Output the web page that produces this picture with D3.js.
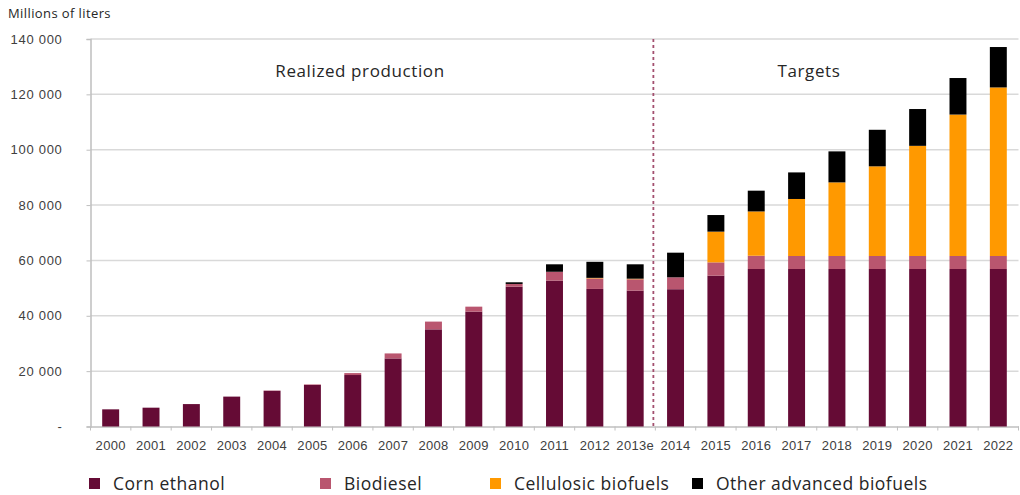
<!DOCTYPE html>
<html>
<head>
<meta charset="utf-8">
<script src="https://cdn.jsdelivr.net/npm/d3@7"></script>
<style>
  body { margin: 0; background: #fff; }
  svg { display: block; font-family: "Open Sans", Lato, sans-serif; }
</style>
</head>
<body>
<script>
// Millions of liters
const years = ["2000","2001","2002","2003","2004","2005","2006","2007","2008","2009","2010",
  "2011","2012","2013e","2014","2015","2016","2017","2018","2019","2020","2021","2022"];
const cornEthanol = [6200, 6800, 8100, 10800, 12900, 15000, 18600, 24600, 35100, 41500, 50500,
  52700, 49700, 49100, 49600, 54500, 56900, 56900, 56900, 56900, 56900, 56900, 56900];
const biodiesel = [0, 0, 0, 0, 100, 200, 700, 1800, 2800, 1800, 1000,
  3200, 3800, 4100, 4300, 4800, 4800, 4700, 4700, 4700, 4700, 4700, 4700];
const cellulosic = [0, 0, 0, 0, 0, 0, 0, 0, 0, 0, 0,
  0, 200, 200, 0, 11100, 16000, 20600, 26600, 32400, 39800, 51100, 60900];
const otherAdvanced = [0, 0, 0, 0, 0, 0, 0, 0, 0, 0, 600,
  2700, 5800, 5200, 8900, 6000, 7500, 9600, 11200, 13200, 13300, 13200, 14600];
const yTicks = [0, 20000, 40000, 60000, 80000, 100000, 120000, 140000];

const seriesKeys = ["Corn ethanol", "Biodiesel", "Cellulosic biofuels", "Other advanced biofuels"];
const seriesData = [cornEthanol, biodiesel, cellulosic, otherAdvanced];
const colors = ["#650b35", "#b9566f", "#ff9900", "#000000"];

const width = 1020, height = 495;
const margin = {top: 39, right: 1.5, bottom: 68.5, left: 90.5};

const table = years.map((year, i) => {
  const row = {year};
  seriesKeys.forEach((k, j) => row[k] = seriesData[j][i]);
  return row;
});

const stacked = d3.stack().keys(seriesKeys)(table);

const x = d3.scaleBand()
    .domain(years)
    .range([margin.left, width - margin.right])
    .paddingInner(0.58)
    .paddingOuter(0.29);

const y = d3.scaleLinear()
    .domain([0, 140000])
    .range([height - margin.bottom, margin.top]);

const fmt = d3.formatLocale({decimal: ",", thousands: " ", grouping: [3], currency: ["", ""]}).format(",d");

const svg = d3.select("body").append("svg")
    .attr("width", width)
    .attr("height", height);

// gridlines
svg.append("g")
  .selectAll("line")
  .data(yTicks.filter(d => d > 0))
  .join("line")
    .attr("x1", margin.left)
    .attr("x2", width - margin.right)
    .attr("y1", d => y(d))
    .attr("y2", d => y(d))
    .attr("stroke", "#d9d9d9")
    .attr("stroke-width", 1.5);

// y axis
const yAxis = svg.append("g")
    .attr("transform", `translate(${margin.left},0)`)
    .call(d3.axisLeft(y).tickValues(yTicks).tickSize(4).tickPadding(24)
      .tickFormat(d => d === 0 ? "-" : fmt(d)));
yAxis.select(".domain").attr("stroke", "#bfbfbf").attr("stroke-width", 1.5);
yAxis.selectAll(".tick line").attr("stroke", "#bfbfbf");
yAxis.selectAll(".tick text")
    .attr("fill", "#404040")
    .attr("font-size", 13)
    .attr("letter-spacing", 0.7);

// x axis
const xAxis = svg.append("g")
    .attr("transform", `translate(0,${y(0)})`)
    .call(d3.axisBottom(x).tickSize(0).tickPadding(14));
xAxis.select(".domain").attr("stroke", "#bfbfbf").attr("stroke-width", 1.5);
xAxis.selectAll(".tick text")
    .attr("fill", "#404040")
    .attr("font-size", 13)
    .attr("letter-spacing", 0.3);

// tick marks on band boundaries
svg.append("g")
  .selectAll("line")
  .data(d3.range(years.length + 1))
  .join("line")
    .attr("x1", i => margin.left + i * x.step())
    .attr("x2", i => margin.left + i * x.step())
    .attr("y1", y(0))
    .attr("y2", y(0) + 4)
    .attr("stroke", "#bfbfbf");

// bars
svg.append("g")
  .selectAll("g")
  .data(stacked)
  .join("g")
    .attr("fill", (d, i) => colors[i])
  .selectAll("rect")
  .data(d => d.filter(p => p[1] > p[0]))
  .join("rect")
    .attr("x", d => x(d.data.year))
    .attr("y", d => y(d[1]))
    .attr("width", x.bandwidth())
    .attr("height", d => y(d[0]) - y(d[1]));

// divider between realized and targets
const divX = margin.left + years.indexOf("2014") * x.step() - 2;
svg.append("line")
    .attr("x1", divX)
    .attr("x2", divX)
    .attr("y1", margin.top)
    .attr("y2", y(0))
    .attr("stroke", "#a3506f")
    .attr("stroke-width", 1.8)
    .attr("stroke-dasharray", "3,3");

svg.append("text")
    .attr("x", 360)
    .attr("y", 77)
    .attr("text-anchor", "middle")
    .attr("font-size", 17)
    .attr("letter-spacing", 0.6)
    .attr("fill", "#262626")
    .text("Realized production");

svg.append("text")
    .attr("x", 809)
    .attr("y", 77)
    .attr("text-anchor", "middle")
    .attr("font-size", 17)
    .attr("letter-spacing", 0.6)
    .attr("fill", "#262626")
    .text("Targets");

svg.append("text")
    .attr("x", 8)
    .attr("y", 18)
    .attr("font-size", 13)
    .attr("letter-spacing", 0.4)
    .attr("fill", "#262626")
    .text("Millions of liters");

// legend
const legendX = [89, 320, 490, 692];
const legend = svg.append("g")
  .selectAll("g")
  .data(seriesKeys)
  .join("g")
    .attr("transform", (d, i) => `translate(${legendX[i]},478)`);
legend.append("rect")
    .attr("width", 11)
    .attr("height", 11)
    .attr("fill", (d, i) => colors[i]);
legend.append("text")
    .attr("x", 24)
    .attr("y", 12)
    .attr("font-size", 17.5)
    .attr("letter-spacing", 0.5)
    .attr("fill", "#262626")
    .text(d => d);
</script>
</body>
</html>
